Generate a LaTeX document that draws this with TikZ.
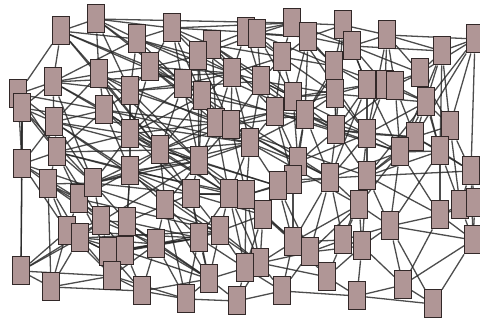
\documentclass[tikz,border=0pt]{standalone}
\definecolor{boxfill}{RGB}{176,150,150}
\definecolor{boxline}{RGB}{50,40,40}
\pgfdeclarelayer{bg}
\pgfdeclarelayer{edgelayer}
\pgfsetlayers{bg,edgelayer,main}
\begin{document}
\begin{tikzpicture}[x=1pt,y=-1pt,
  box/.style={draw=boxline, line width=1pt, fill=boxfill, minimum width=17pt, minimum height=28pt, inner sep=0pt},
  link/.style={draw=black!85, line width=1.3pt, opacity=0.82}]
\begin{pgfonlayer}{bg}
\fill[white] (0,0) rectangle (480,320);
\end{pgfonlayer}
\useasboundingbox (0,0) rectangle (480,320);
\foreach \n/\x/\y in {
 1/61/31, 2/96/19, 3/137/39, 4/172/28, 5/212/45, 6/198/56, 7/246/32, 8/257/34,
 9/292/23, 10/308/37, 11/282/57, 12/232/73, 13/183/84, 14/202/96, 15/261/81,
 16/293/97, 17/343/25, 18/352/46, 19/387/35, 20/442/51, 21/475/39, 22/334/66,
 23/335/94, 24/367/85, 25/385/85, 26/395/86, 27/420/73, 28/426/102, 29/53/82,
 30/99/74, 31/18/94, 32/130/91, 33/150/67, 34/104/110, 35/22/108, 36/54/122,
 37/130/134, 38/22/164, 39/57/152, 40/48/184, 41/79/199, 42/93/183, 43/130/171,
 44/160/150, 45/199/161, 46/216/123, 47/231/125, 48/250/143, 49/275/112,
 50/305/115, 51/298/162, 52/293/180, 53/191/194, 54/229/194, 55/246/195,
 56/336/130, 57/367/134, 58/415/137, 59/450/126, 60/400/152, 61/440/151,
 62/330/178, 63/367/176, 64/471/171, 65/21/271, 66/51/287, 67/67/231, 68/80/238,
 69/108/252, 70/125/251, 71/112/276, 72/142/291, 73/156/244, 74/186/299,
 75/237/301, 76/282/291, 77/209/279, 78/220/231, 79/199/238, 80/260/263,
 81/245/268, 82/293/242, 83/310/252, 84/357/296, 85/433/304, 86/403/285,
 87/473/240, 88/390/226, 89/362/246, 90/343/240, 91/327/277, 92/440/215,
 93/460/205, 94/475/203, 95/359/205, 96/165/205, 98/101/221, 99/127/222,
 100/278/186, 101/263/215}
  \node[box] (n\n) at (\x,\y) {};
\begin{pgfonlayer}{edgelayer}
\foreach \a/\b in {
 1/2, 1/29, 1/31, 1/30, 1/3, 1/33, 1/13,
 2/3, 2/30, 2/4, 2/9, 2/32, 2/14,
 3/4, 3/33, 3/32, 3/13, 3/6, 3/12, 3/29,
 29/31, 29/35, 29/36, 29/30, 29/34, 29/32, 29/42, 29/12,
 30/33, 30/34, 30/36, 30/32, 30/44, 30/46, 30/37,
 31/35, 31/36, 31/38, 31/34, 31/39,
 32/33, 32/34, 32/37, 32/13, 32/44, 32/45, 32/47, 32/15,
 33/4, 33/13, 33/6, 33/46, 33/37, 33/12,
 34/36, 34/37, 34/39, 34/43, 34/48, 34/44,
 35/36, 35/65, 35/39, 35/38, 35/42,
 4/5, 4/7, 4/6, 4/13, 4/14, 4/12, 4/9,
 5/6, 5/7, 5/12, 5/11, 5/15, 5/46, 5/16,
 6/13, 6/14, 6/12, 6/47, 6/8,
 7/8, 7/9, 7/12, 7/15, 7/11, 7/10,
 8/9, 8/10, 8/11, 8/15, 8/16, 8/22,
 9/10, 9/17, 9/11, 9/18, 9/22,
 10/17, 10/18, 10/11, 10/22, 10/16,
 11/15, 11/16, 11/22, 11/23, 11/49, 11/12,
 12/13, 12/14, 12/15, 12/46, 12/47, 12/48,
 13/14, 13/44, 13/37, 13/45,
 14/46, 14/47, 14/45, 14/49, 14/44, 14/37,
 15/16, 15/47, 15/48, 15/49, 15/50, 15/23,
 16/23, 16/49, 16/50, 16/24, 16/56, 16/51,
 17/18, 17/19, 17/22, 17/24,
 18/19, 18/20, 18/22, 18/24, 18/25, 18/27,
 19/20, 19/21, 19/25, 19/26, 19/27,
 20/21, 20/27, 20/61, 20/28, 20/59,
 21/27, 21/64, 21/59, 21/28,
 22/23, 22/24, 22/25, 22/50, 22/56,
 23/24, 23/56, 23/50, 23/57, 23/49, 23/28,
 24/25, 24/26, 24/57, 24/56, 24/60,
 25/26, 25/27, 25/57, 25/28,
 26/27, 26/28, 26/58, 26/60,
 27/28, 27/59, 27/61,
 28/58, 28/59, 28/57, 28/61, 28/60,
 36/39, 36/37, 36/38, 36/42, 36/43, 36/44,
 37/39, 37/43, 37/44, 37/42, 37/46, 37/45, 37/53,
 38/39, 38/40, 38/65, 38/41, 38/67,
 39/40, 39/41, 39/42, 39/43, 39/44, 39/98,
 40/41, 40/42, 40/66, 40/67, 40/68, 40/98,
 41/42, 41/98, 41/67, 41/69, 41/43,
 42/43, 42/44, 42/98, 42/99, 42/45, 42/53,
 43/44, 43/99, 43/45, 43/53, 43/96, 43/70, 43/78,
 44/45, 44/46, 44/53, 44/47, 44/48, 44/96, 44/54,
 98/99, 98/67, 98/68, 98/69, 98/70,
 99/69, 99/70, 99/73, 99/96, 99/79,
 45/46, 45/47, 45/53, 45/54, 45/48, 45/55, 45/96,
 46/47, 46/48, 46/49, 46/54,
 47/48, 47/49, 47/50, 47/55, 47/51,
 48/49, 48/50, 48/51, 48/55, 48/100, 48/54,
 49/50, 49/51, 49/56, 49/52,
 50/51, 50/56, 50/52, 50/57, 50/62,
 51/52, 51/56, 51/62, 51/100, 51/57,
 52/100, 52/62, 52/82, 52/55,
 53/54, 53/96, 53/79, 53/78, 53/55,
 54/55, 54/78, 54/101, 54/79, 54/81,
 55/100, 55/101, 55/80, 55/81,
 96/73, 96/79, 96/74, 96/77,
 100/101, 100/82, 100/62, 100/83,
 56/57, 56/62, 56/60, 56/58,
 57/58, 57/60, 57/62, 57/63,
 58/59, 58/60, 58/61, 58/63,
 59/61, 59/64,
 60/61, 60/63, 60/62, 60/92, 60/88,
 61/64, 61/63, 61/92, 61/93,
 62/63, 62/95, 62/90, 62/83,
 63/95, 63/88, 63/92, 63/89,
 64/93, 64/94, 64/87,
 92/93, 92/94, 92/88, 92/87, 92/86,
 93/94, 93/87, 94/87,
 95/88, 95/89, 95/90, 95/82, 95/83,
 65/66, 65/67, 65/71, 65/68,
 66/71, 66/72, 66/67, 66/68,
 67/68, 67/69, 67/71,
 68/69, 68/70, 68/71, 68/73,
 69/70, 69/71, 69/72, 69/73,
 70/71, 70/73, 70/79, 70/72,
 71/72, 71/74,
 72/73, 72/74, 72/77,
 73/79, 73/77, 73/74, 73/78,
 74/75, 74/77, 74/79,
 75/76, 75/77, 75/81, 75/80,
 76/80, 76/84, 76/81, 76/82, 76/83,
 77/78, 77/79, 77/81,
 78/79, 78/81, 78/101, 78/80,
 79/81,
 80/81, 80/82, 80/101, 80/83, 80/91,
 81/101,
 82/83, 82/101, 82/90, 82/91,
 83/90, 83/91, 83/89,
 84/85, 84/86, 84/91, 84/89,
 85/86, 85/87, 85/88,
 86/87, 86/88, 86/89,
 87/88, 88/89, 88/90, 89/90, 89/91, 90/91,
 1/44, 2/47, 35/48, 38/78, 13/60, 3/50, 36/80, 40/77, 65/45, 29/55,
 9/57, 17/56, 21/58, 64/63, 41/78, 39/54, 42/48, 12/56, 14/62, 15/57,
 46/63, 47/62, 48/95, 45/100, 53/101, 43/55, 37/54, 34/47, 30/45, 33/48,
 10/50, 5/49, 18/50, 19/57, 20/60, 6/45, 44/100, 99/77, 67/79, 68/78,
 69/79, 70/77, 71/73, 98/73, 53/77, 55/82, 54/80, 101/83, 62/82, 63/90,
 57/95, 56/63, 58/64, 59/93, 60/95, 61/88, 28/63, 26/56, 24/62}
  \draw[link] (n\a) -- (n\b);
\end{pgfonlayer}
\end{tikzpicture}
\end{document}
